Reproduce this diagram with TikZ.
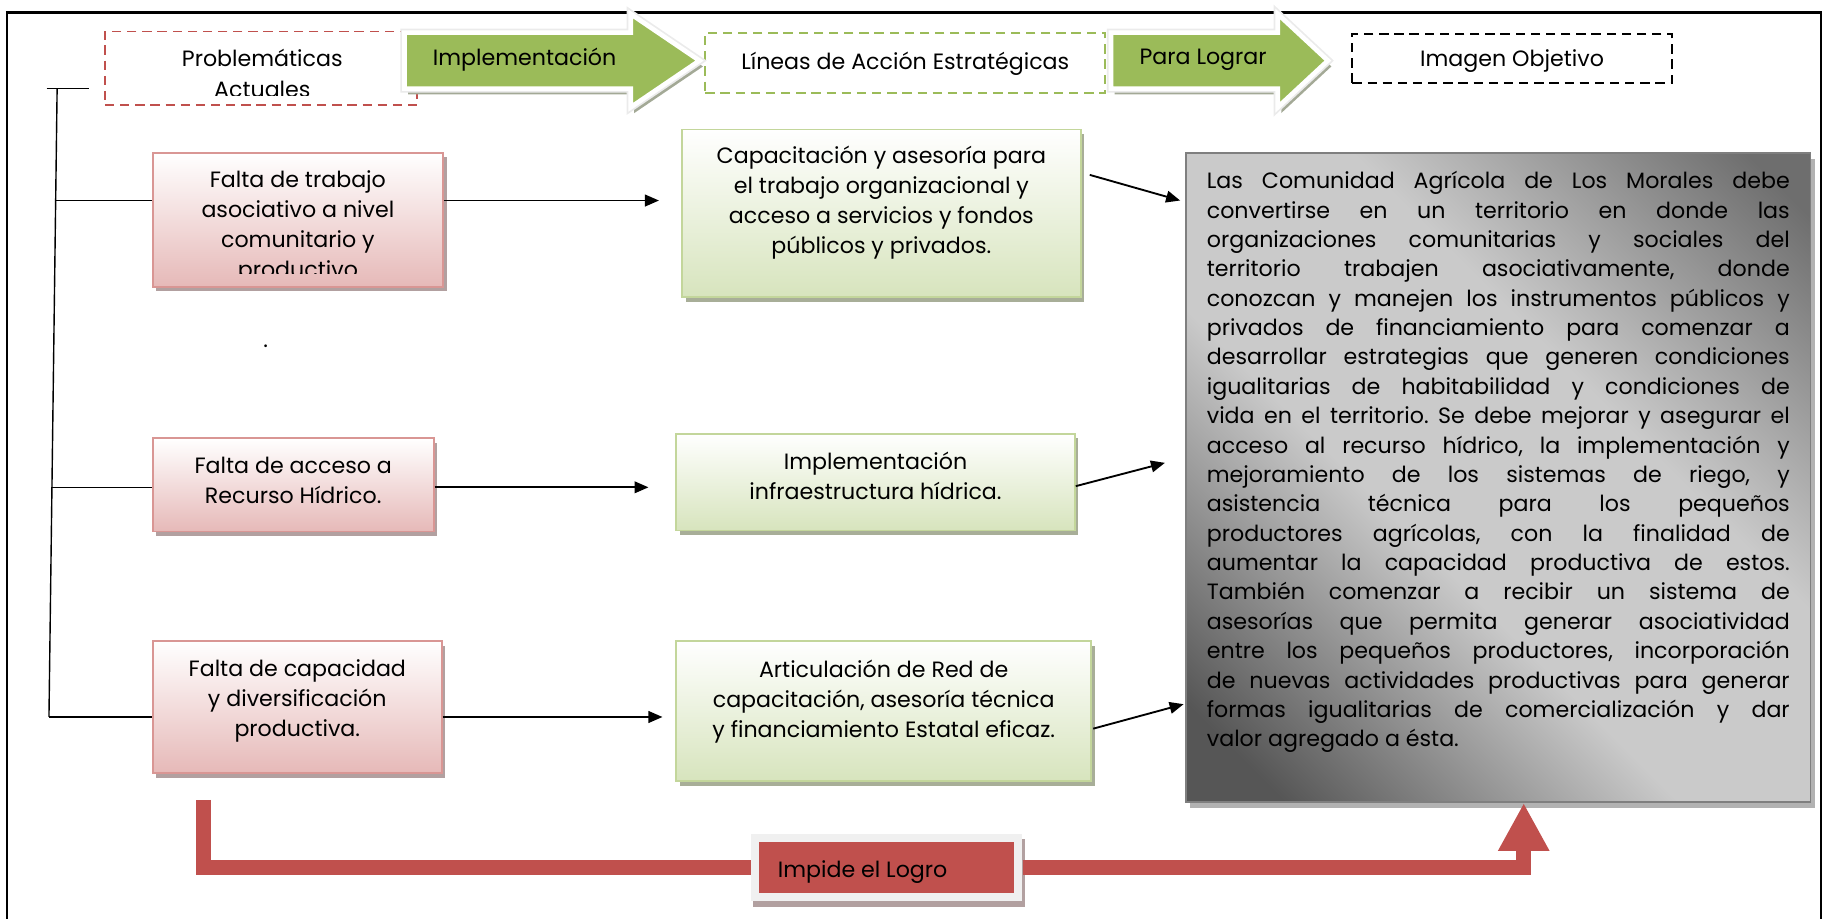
\documentclass[tikz,border=0pt]{standalone}
\usepackage{fontspec}
\setmainfont{Poppins}
\usepackage{graphicx}
\usetikzlibrary{arrows.meta,shadows,calc}
\frenchspacing
\definecolor{rdash}{HTML}{C0504D}
\definecolor{gdash}{HTML}{9BBB59}
\definecolor{rborder}{HTML}{D99694}
\definecolor{rfill}{HTML}{E6B9B8}
\definecolor{gborder}{HTML}{C3D69B}
\definecolor{gfill}{HTML}{D7E4BD}
\definecolor{agreen}{HTML}{9BBB59}
\definecolor{ired}{HTML}{C0504D}
\definecolor{bborder}{HTML}{7F7F7F}
\definecolor{shR}{HTML}{B2A0A0}
\definecolor{shG}{HTML}{A8AE98}
\definecolor{shA}{HTML}{A3A996}
\definecolor{dkA}{HTML}{565656}
\definecolor{ltA}{HTML}{CACACA}
\definecolor{dkB}{HTML}{6E6E6E}
\pgfdeclareverticalshading{bigshade}{100bp}{color(0bp)=(dkA); color(20bp)=(dkA); color(42bp)=(ltA); color(60bp)=(ltA); color(82bp)=(dkB); color(100bp)=(dkB)}
\newsavebox\jlbox
\newcommand\JLine[1]{\sbox\jlbox{#1}\ifdim\wd\jlbox>500pt \resizebox{500pt}{\height}{\usebox\jlbox}\strut\else\makebox[500pt][s]{\strut#1}\fi}
\begin{document}
\begin{tikzpicture}[x=1pt,y=-1pt,
  txt/.style={font=\fontsize{19}{25.8}\selectfont, align=center, inner sep=0pt},
  redbox/.style={draw=rborder, line width=1.5pt, top color=white, bottom color=rfill, inner sep=0pt, drop shadow={shadow xshift=3pt,shadow yshift=-4pt,fill=shR,opacity=1}},
  greenbox/.style={draw=gborder, line width=1.5pt, top color=white, bottom color=gfill, inner sep=0pt, drop shadow={shadow xshift=3pt,shadow yshift=-4pt,fill=shG,opacity=1}},
  dbox/.style={dash pattern=on 8pt off 5pt, line width=1.6pt, fill=white, inner sep=0pt},
  arr/.style={line width=1.6pt, -{Triangle[length=12pt,width=10pt]}},
  brk/.style={line width=1.2pt},
  redc/.style={line width=13pt, draw=ired},
  arrowoutline/.style={line width=7pt, draw=black!8, line join=miter},
  arrowbody/.style={line width=4pt, draw=white, fill=agreen, line join=miter}
]
\useasboundingbox (0,0) rectangle (1568,788);
% outer frame
\draw[line width=1.2pt] (6,790) -- (6,11);
\draw[line width=2.5pt] (5,11) -- (1562,11) -- (1562,790);

% top row dashed boxes
\node[dbox, draw=rdash, minimum width=268pt, minimum height=63pt] (pa) at (224,58.5) {};
\begin{scope}
\clip (90,27) rectangle (358,81.5);
\node[txt] (pat) at (225,63) {Problemáticas\\Actuales};
\end{scope}
\node[dbox, draw=gdash, minimum width=343pt, minimum height=52pt] (la) at (776.5,54) {};
\node[txt] (lat) at (776.5,54.5) {Líneas de Acción Estratégicas};
\node[dbox, draw=black, minimum width=274pt, minimum height=42pt] (io) at (1297,50) {};
\node[txt] (iot) at (1297,52.5) {Imagen Objetivo};

% big arrows
\fill[shA] (350,33) -- (544,33) -- (544,17) -- (603,57) -- (544,97) -- (544,81) -- (350,81) -- cycle;
\draw[arrowoutline] (347,28) -- (541,28) -- (541,12) -- (600,52) -- (541,92) -- (541,76) -- (347,76) -- cycle;
\draw[arrowbody] (347,28) -- (541,28) -- (541,12) -- (600,52) -- (541,92) -- (541,76) -- (347,76) -- cycle;
\node[txt] (imp) at (450,51) {Implementación};
\fill[shA] (956,33) -- (1099,33) -- (1099,17) -- (1142,57) -- (1099,97) -- (1099,81) -- (956,81) -- cycle;
\draw[arrowoutline] (953,28) -- (1096,28) -- (1096,12) -- (1139,52) -- (1096,92) -- (1096,76) -- (953,76) -- cycle;
\draw[arrowbody] (953,28) -- (1096,28) -- (1096,12) -- (1139,52) -- (1096,92) -- (1096,76) -- (953,76) -- cycle;
\node[txt] (pl) at (1032,51.5) {Para Lograr};

% red boxes
\node[redbox, minimum width=249pt, minimum height=115pt] (r1) at (255.5,188.5) {};
\begin{scope}
\clip (131,131) rectangle (380,235);
\node[txt] (r1t) at (255.5,194.5) {Falta de trabajo\\asociativo a nivel\\comunitario y\\productivo};
\end{scope}
\node[redbox, minimum width=241pt, minimum height=80pt] (r2) at (251.5,416) {};
\node[txt] (r2t) at (251.5,412) {Falta de acceso a\\Recurso Hídrico.};
\node[redbox, minimum width=248pt, minimum height=113pt] (r3) at (255,606.5) {};
\node[txt] (r3t) at (255,601.5) {Falta de capacidad\\y diversificación\\productiva.};
\node[txt] (dot) at (228,297) {.};

% green boxes
\node[greenbox, minimum width=342pt, minimum height=144pt] (g1) at (756,183) {};
\node[txt] (g1t) at (756,173.5) {Capacitación y asesoría para\\el trabajo organizacional y\\acceso a servicios y fondos\\públicos y privados.};
\node[greenbox, minimum width=342pt, minimum height=83pt] (g2) at (751,413.5) {};
\node[txt] (g2t) at (751,408.5) {Implementación\\infraestructura hídrica.};
\node[greenbox, minimum width=356pt, minimum height=120pt] (g3) at (758,610) {};
\node[txt] (g3t) at (758,601.5) {Articulación de Red de\\capacitación, asesoría técnica\\y financiamiento Estatal eficaz.};

% big box
\node[draw=bborder, line width=1.5pt, shading=bigshade, shading angle=-45, minimum width=536pt, minimum height=557pt, inner sep=0pt, drop shadow={shadow xshift=4pt,shadow yshift=-5pt,fill=black!30,opacity=1}] (big) at (1285,409.5) {};
\node[anchor=north west, inner sep=0pt, align=left, font=\fontsize{19}{25.2}\selectfont] (bigt) at (1035,144) {%
\JLine{Las Comunidad Agrícola de Los Morales debe}\\
\JLine{convertirse en un territorio en donde las}\\
\JLine{organizaciones comunitarias y sociales del}\\
\JLine{territorio trabajen asociativamente, donde}\\
\JLine{conozcan y manejen los instrumentos públicos y}\\
\JLine{privados de financiamiento para comenzar a}\\
\JLine{desarrollar estrategias que generen condiciones}\\
\JLine{igualitarias de habitabilidad y condiciones de}\\
\JLine{vida en el territorio. Se debe mejorar y asegurar el}\\
\JLine{acceso al recurso hídrico, la implementación y}\\
\JLine{mejoramiento de los sistemas de riego, y}\\
\JLine{asistencia técnica para los pequeños}\\
\JLine{productores agrícolas, con la finalidad de}\\
\JLine{aumentar la capacidad productiva de estos.}\\
\JLine{También comenzar a recibir un sistema de}\\
\JLine{asesorías que permita generar asociatividad}\\
\JLine{entre los pequeños productores, incorporación}\\
\JLine{de nuevas actividades productivas para generar}\\
\JLine{formas igualitarias de comercialización y dar}\\
\makebox[500pt][l]{\strut valor agregado a ésta.}};

% bracket
\coordinate (ttl) at (40,76);
\coordinate (ttr) at (76,76);
\coordinate (vtop) at (49,76);
\coordinate (vbot) at (42,615);
\coordinate (b1) at (47.7,172);
\coordinate (b2) at (44.6,418);
\draw[brk] (ttl) -- (ttr);
\draw[brk] (vtop) -- (vbot);
\draw[brk] (b1) -- ([yshift=16.5pt]r1.west);
\draw[brk] (b2) -- ([yshift=-2pt]r2.west);
\draw[brk] (vbot) -- ([yshift=-8.5pt]r3.west);

% arrows red -> green
\draw[arr, shorten >=19pt] ([yshift=16.5pt]r1.east) -- ([yshift=16.5pt]r1.east -| g1.west);
\draw[arr, shorten >=23pt] ([yshift=-2pt]r2.east) -- ([yshift=-2pt]r2.east -| g2.west);
\draw[arr, shorten >=11pt] ([yshift=-8.5pt]r3.east) -- ([yshift=-8.5pt]r3.east -| g3.west);
% arrows green -> big
\draw[arr] ([shift={(7pt,33pt)}]g1.east) -- ([shift={(-4pt,237.5pt)}]big.west);
\draw[arr] ([yshift=-3.5pt]g2.east) -- ([shift={(-17pt,12.5pt)}]big.west);
\draw[arr] ([shift={(1pt,-15pt)}]g3.east) -- ([shift={(-1pt,-194.5pt)}]big.west);

% impide el logro
\node[fill=black!6, draw=none, minimum width=233pt, minimum height=58pt, inner sep=0pt, drop shadow={shadow xshift=2pt,shadow yshift=-5pt,fill=shR,opacity=1}] (impf) at (760.5,744) {};
\node[fill=ired, minimum width=219pt, minimum height=44pt, inner sep=0pt] (impide) at (760.5,744) {};
\node[txt, anchor=west] (impt) at (667,748) {Impide el Logro};
\coordinate (s) at (174.5,686);
\draw[redc] (s) |- (impf.west);
\draw[redc, -{Triangle[length=41pt,width=41pt]}] (impf.east) -| ([xshift=22pt]big.south);
\end{tikzpicture}
\end{document}
